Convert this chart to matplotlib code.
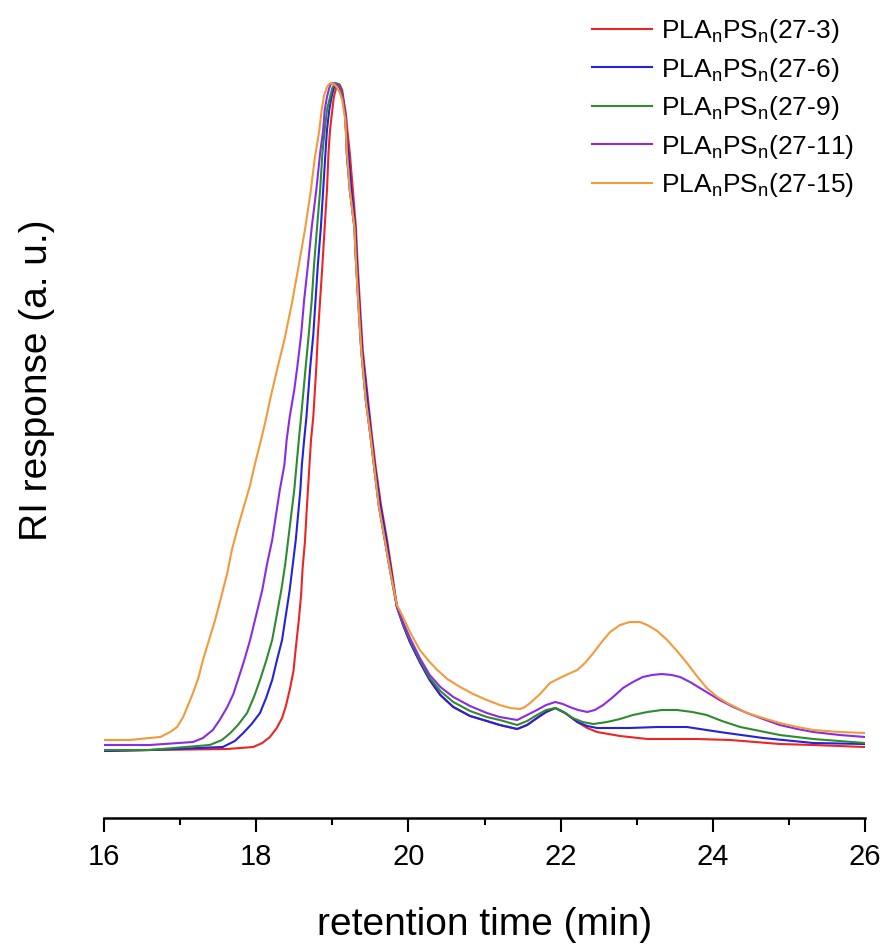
import matplotlib
matplotlib.use("Agg")
import matplotlib.pyplot as plt
from matplotlib.ticker import MultipleLocator

plt.rcParams['font.family'] = ['Liberation Sans', 'DejaVu Sans']

# data (retention time in min, RI response in a.u.)
t_27_3 = [16.00, 16.60, 17.62, 17.96, 18.08, 18.18, 18.27, 18.34, 18.39, 18.44, 18.49, 18.52,
          18.56, 18.59, 18.61, 18.64, 18.66, 18.68, 18.70, 18.72, 18.75, 18.79, 18.81, 18.84,
          18.87, 18.90, 18.93, 18.95, 18.97, 19.00, 19.02, 19.05, 19.08, 19.10, 19.13, 19.15,
          19.18, 19.20, 19.23, 19.27, 19.31, 19.33, 19.36, 19.40, 19.47, 19.52, 19.57, 19.64,
          19.72, 19.79, 19.85, 19.93, 20.02, 20.15, 20.28, 20.42, 20.59, 20.81, 21.03, 21.20,
          21.43, 21.56, 21.69, 21.81, 21.93, 22.06, 22.22, 22.35, 22.48, 22.78, 23.14, 23.79,
          24.23, 24.88, 25.32, 26.00]
y_27_3 = [6.7, 6.8, 6.9, 7.1, 7.5, 8.1, 9.0, 10.0, 11.2, 12.8, 14.7, 17.0,
          19.8, 22.3, 25.0, 27.6, 30.3, 32.8, 35.3, 37.8, 40.1, 45.1, 48.3, 51.8,
          55.3, 59.1, 62.8, 66.5, 68.8, 70.8, 72.1, 73.0, 73.4, 73.3, 72.8, 71.8,
          70.3, 68.6, 66.5, 62.8, 59.1, 55.8, 51.8, 46.8, 41.8, 38.3, 35.1, 31.3,
          27.8, 24.3, 21.1, 19.3, 17.6, 15.6, 13.8, 12.3, 11.1, 10.2, 9.7, 9.3,
          8.9, 9.3, 10.0, 10.6, 11.0, 10.5, 9.6, 9.0, 8.6, 8.2, 7.9, 7.9,
          7.8, 7.4, 7.3, 7.1]

t_27_6 = [16.00, 16.60, 17.56, 17.72, 17.83, 17.94, 18.05, 18.13, 18.21, 18.27, 18.34, 18.39,
          18.44, 18.48, 18.52, 18.55, 18.58, 18.60, 18.63, 18.66, 18.71, 18.75, 18.78, 18.81,
          18.85, 18.88, 18.91, 18.93, 18.96, 18.99, 19.02, 19.05, 19.08, 19.10, 19.13, 19.15,
          19.17, 19.18, 19.21, 19.25, 19.30, 19.32, 19.35, 19.39, 19.46, 19.51, 19.56, 19.63,
          19.71, 19.78, 19.85, 19.93, 20.02, 20.15, 20.28, 20.42, 20.59, 20.81, 21.03, 21.20,
          21.43, 21.56, 21.69, 21.81, 21.93, 22.06, 22.22, 22.35, 22.48, 22.91, 23.27, 23.66,
          24.09, 24.66, 25.32, 26.00]
y_27_6 = [6.7, 6.8, 7.1, 7.7, 8.5, 9.4, 10.5, 12.0, 13.8, 15.7, 17.8, 20.3,
          22.8, 25.3, 27.8, 30.3, 32.8, 35.3, 37.8, 40.1, 45.1, 48.3, 51.8, 55.3,
          59.1, 62.8, 66.5, 68.8, 70.8, 72.1, 73.0, 73.4, 73.4, 73.1, 72.4, 71.3,
          70.3, 68.8, 66.5, 62.8, 59.1, 55.8, 51.8, 46.8, 41.8, 38.3, 35.1, 31.3,
          27.8, 24.3, 21.1, 19.3, 17.6, 15.6, 13.8, 12.3, 11.1, 10.2, 9.7, 9.3,
          8.9, 9.3, 10.0, 10.6, 11.0, 10.5, 9.6, 9.2, 9.0, 9.0, 9.1, 9.1,
          8.6, 8.0, 7.5, 7.4]

t_27_9 = [16.00, 16.60, 17.39, 17.55, 17.66, 17.76, 17.88, 17.97, 18.05, 18.13, 18.21, 18.27,
          18.33, 18.38, 18.42, 18.46, 18.50, 18.53, 18.56, 18.59, 18.65, 18.69, 18.73, 18.76,
          18.80, 18.84, 18.87, 18.90, 18.93, 18.97, 19.00, 19.04, 19.08, 19.10, 19.13, 19.15,
          19.17, 19.18, 19.19, 19.23, 19.29, 19.31, 19.34, 19.38, 19.44, 19.50, 19.55, 19.61,
          19.69, 19.77, 19.85, 19.93, 20.02, 20.15, 20.28, 20.42, 20.59, 20.81, 21.03, 21.20,
          21.43, 21.56, 21.69, 21.81, 21.93, 22.04, 22.16, 22.29, 22.43, 22.61, 22.78, 22.95,
          23.14, 23.33, 23.53, 23.73, 23.92, 24.12, 24.36, 24.62, 24.88, 25.32, 26.00]
y_27_9 = [6.8, 6.8, 7.3, 7.8, 8.5, 9.3, 10.5, 12.1, 13.8, 15.7, 17.8, 20.3,
          22.8, 25.3, 27.8, 30.3, 32.8, 35.3, 37.8, 40.1, 45.1, 48.3, 51.8, 55.3,
          59.1, 62.8, 66.5, 68.8, 70.8, 72.1, 73.0, 73.5, 73.4, 73.1, 72.4, 71.3,
          70.3, 68.6, 66.5, 62.8, 59.1, 55.8, 51.8, 46.8, 41.8, 38.3, 35.1, 31.3,
          27.8, 24.3, 21.1, 19.4, 17.8, 15.8, 14.0, 12.7, 11.6, 10.7, 10.1, 9.8,
          9.3, 9.7, 10.3, 10.8, 11.0, 10.6, 10.0, 9.6, 9.4, 9.6, 9.9, 10.3,
          10.6, 10.8, 10.8, 10.6, 10.3, 9.7, 9.1, 8.7, 8.3, 7.9, 7.5]

t_27_11 = [16.00, 16.60, 17.17, 17.30, 17.43, 17.52, 17.62, 17.70, 17.76, 17.84, 17.92, 18.00,
           18.08, 18.14, 18.21, 18.26, 18.31, 18.37, 18.40, 18.44, 18.50, 18.54, 18.59, 18.63,
           18.68, 18.73, 18.79, 18.84, 18.88, 18.90, 18.93, 18.96, 18.98, 19.01, 19.05, 19.09,
           19.11, 19.14, 19.17, 19.18, 19.19, 19.23, 19.29, 19.31, 19.34, 19.38, 19.44, 19.50,
           19.55, 19.61, 19.69, 19.77, 19.85, 19.93, 20.02, 20.15, 20.28, 20.42, 20.59, 20.81,
           21.03, 21.20, 21.43, 21.56, 21.69, 21.81, 21.93, 22.03, 22.12, 22.23, 22.35, 22.45,
           22.56, 22.69, 22.82, 22.95, 23.08, 23.20, 23.33, 23.46, 23.57, 23.70, 23.83, 23.96,
           24.09, 24.27, 24.45, 24.66, 24.88, 25.11, 25.32, 25.67, 26.00]
y_27_11 = [7.3, 7.3, 7.6, 8.0, 8.8, 9.8, 11.1, 12.4, 13.8, 15.7, 17.8, 20.3,
           22.8, 25.3, 27.8, 30.3, 32.8, 35.3, 37.8, 40.1, 42.8, 45.1, 48.3, 51.8,
           55.3, 59.1, 62.8, 66.5, 68.8, 70.8, 72.1, 73.0, 73.4, 73.5, 73.4, 73.1,
           72.6, 71.8, 70.3, 68.6, 66.5, 62.8, 59.1, 55.8, 51.8, 46.8, 41.8, 38.3,
           35.1, 31.3, 27.8, 24.3, 21.1, 19.6, 18.0, 16.0, 14.3, 13.1, 12.1, 11.2,
           10.5, 10.1, 9.8, 10.3, 10.8, 11.3, 11.6, 11.4, 11.1, 10.8, 10.6, 10.8,
           11.3, 12.1, 13.0, 13.6, 14.1, 14.3, 14.4, 14.3, 14.1, 13.6, 13.0, 12.4,
           11.8, 11.1, 10.5, 9.9, 9.3, 8.9, 8.6, 8.3, 8.1]

t_27_15 = [16.00, 16.34, 16.60, 16.74, 16.87, 16.96, 17.04, 17.10, 17.17, 17.24, 17.30, 17.38,
           17.46, 17.54, 17.62, 17.68, 17.76, 17.84, 17.92, 17.98, 18.05, 18.12, 18.19, 18.27,
           18.37, 18.47, 18.56, 18.64, 18.71, 18.77, 18.83, 18.86, 18.89, 18.93, 18.96, 18.98,
           19.02, 19.06, 19.10, 19.13, 19.15, 19.17, 19.19, 19.23, 19.29, 19.31, 19.34, 19.38,
           19.44, 19.50, 19.55, 19.61, 19.69, 19.77, 19.85, 19.93, 20.02, 20.15, 20.28, 20.38,
           20.51, 20.68, 20.85, 21.03, 21.20, 21.34, 21.47, 21.53, 21.60, 21.73, 21.86, 21.99,
           22.10, 22.22, 22.32, 22.43, 22.54, 22.65, 22.78, 22.91, 23.04, 23.14, 23.27, 23.40,
           23.53, 23.66, 23.79, 23.92, 24.06, 24.19, 24.32, 24.45, 24.66, 24.88, 25.11, 25.32,
           25.67, 26.00]
y_27_15 = [7.8, 7.8, 8.0, 8.1, 8.6, 9.1, 10.1, 11.2, 12.5, 14.0, 15.8, 17.8,
           19.8, 22.1, 24.5, 26.8, 29.1, 31.2, 33.3, 35.3, 37.4, 39.6, 42.1, 44.7,
           47.8, 51.5, 55.3, 58.8, 62.3, 66.0, 68.8, 70.8, 72.2, 73.1, 73.4, 73.5,
           73.4, 73.1, 72.5, 71.8, 70.8, 69.8, 66.8, 62.8, 59.1, 55.8, 51.8, 46.8,
           41.8, 38.3, 35.1, 31.3, 27.8, 24.3, 21.3, 20.1, 18.6, 16.8, 15.6, 14.8,
           13.9, 13.1, 12.4, 11.8, 11.3, 11.0, 10.9, 11.1, 11.5, 12.4, 13.5, 14.0,
           14.4, 14.8, 15.5, 16.5, 17.6, 18.6, 19.3, 19.6, 19.6, 19.3, 18.7, 17.8,
           16.7, 15.5, 14.2, 13.0, 12.1, 11.5, 11.0, 10.5, 10.0, 9.5, 9.1, 8.8,
           8.6, 8.5]

labels = ['27-3', '27-6', '27-9', '27-11', '27-15']
colors = ['#ee2424', '#2323dd', '#2e8b2e', '#8a2be6', '#f39a3a']
series = [(t_27_3, y_27_3), (t_27_6, y_27_6), (t_27_9, y_27_9),
          (t_27_11, y_27_11), (t_27_15, y_27_15)]

fig = plt.figure(figsize=(8.88, 9.49), dpi=100)
ax = fig.add_axes([104 / 888, 131 / 949, 761 / 888, 788 / 949])

for (t, y), lab, c in zip(series, labels, colors):
    ax.plot(t, y, color=c, lw=1.5,
            label=r'PLA$\mathregular{_n}$PS$\mathregular{_n}$(' + lab + ')')

ax.set_xlim(16, 26)
ax.set_ylim(0, 78.8)

for s in ['left', 'right', 'top']:
    ax.spines[s].set_visible(False)
ax.spines['bottom'].set_linewidth(1.8)
ax.set_yticks([])

ax.xaxis.set_major_locator(MultipleLocator(2))
ax.xaxis.set_minor_locator(MultipleLocator(1))
ax.tick_params(axis='x', which='major', length=10, width=1.5, labelsize=21, pad=8)
ax.tick_params(axis='x', which='minor', length=5, width=1.5)

ax.set_xlabel('retention time (min)', fontsize=28)
ax.xaxis.set_label_coords(0.5, -0.113)
ax.set_ylabel('RI response (a. u.)', fontsize=28)
ax.yaxis.set_label_coords(-0.064, 0.556)

ax.legend(loc='upper left', bbox_to_anchor=(592 / 888, 1 - 17 / 949),
          bbox_transform=fig.transFigure, frameon=False, fontsize=19,
          handlelength=2.27, handletextpad=0.34, labelspacing=0.4,
          borderpad=0, borderaxespad=0)

fig.savefig('out.png', dpi=100)
